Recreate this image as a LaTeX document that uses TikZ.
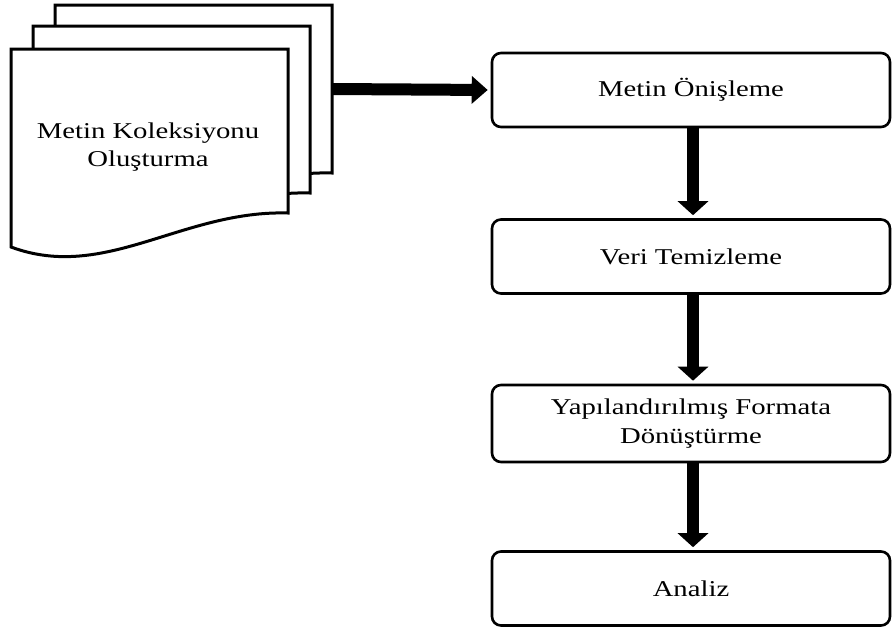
\documentclass[tikz,border=0pt]{standalone}
\usepackage{fontspec}
\setmainfont{Liberation Serif}[FakeStretch=1.27]
\usetikzlibrary{arrows.meta}
\begin{document}
\begin{tikzpicture}[x=1pt,y=-1pt,
  doc/.style={draw=black,fill=white,line width=3pt,line join=miter},
  procbox/.style={draw=black,fill=white,line width=2.6pt,rounded corners=9pt,
    minimum width=398pt,minimum height=74pt,align=center,
    font=\fontsize{22.6}{29}\selectfont},
  doctext/.style={align=center,font=\fontsize{22.6}{28}\selectfont},
  bigarrow/.style={line width=12pt,-{Triangle[width=30pt,length=14pt]},shorten >=3pt},
  sidearrow/.style={line width=12pt,-{Triangle[width=27pt,length=16pt]},shorten >=3pt}]
\useasboundingbox (0,0) rectangle (892,630);
% stacked documents (back, middle, front)
\foreach \dx/\dy/\dh in {44/-44/4, 22/-23/3, 0/0/0}{
  \draw[doc] (11+\dx,49+\dy) -- (288+\dx,49+\dy) -- (288+\dx,213+\dy+\dh)
    .. controls (182+\dx,210+\dy+\dh) and (105+\dx,282+\dy+\dh) .. (11+\dx,247+\dy+\dh) -- cycle;
}
\node[doctext] (coll) at (148,147) {Metin Koleksiyonu\\Oluşturma};
\coordinate (collout) at (333,89);
% process boxes
\node[procbox] (b1) at (691,90) {Metin Önişleme};
\node[procbox] (b2) at (691,256.5) {Veri Temizleme};
\node[procbox,minimum height=77pt] (b3) at (691,423.5) {Yapılandırılmış Formata\\Dönüştürme};
\node[procbox] (b4) at (691,588.5) {Analiz};
% arrows
\draw[sidearrow] (collout) -- (b1.west);
\draw[bigarrow] ([xshift=2pt]b1.south) -- ([xshift=2pt]b2.north);
\draw[bigarrow] ([xshift=2pt]b2.south) -- ([xshift=2pt]b3.north);
\draw[bigarrow] ([xshift=2pt]b3.south) -- ([xshift=2pt]b4.north);
\end{tikzpicture}
\end{document}
